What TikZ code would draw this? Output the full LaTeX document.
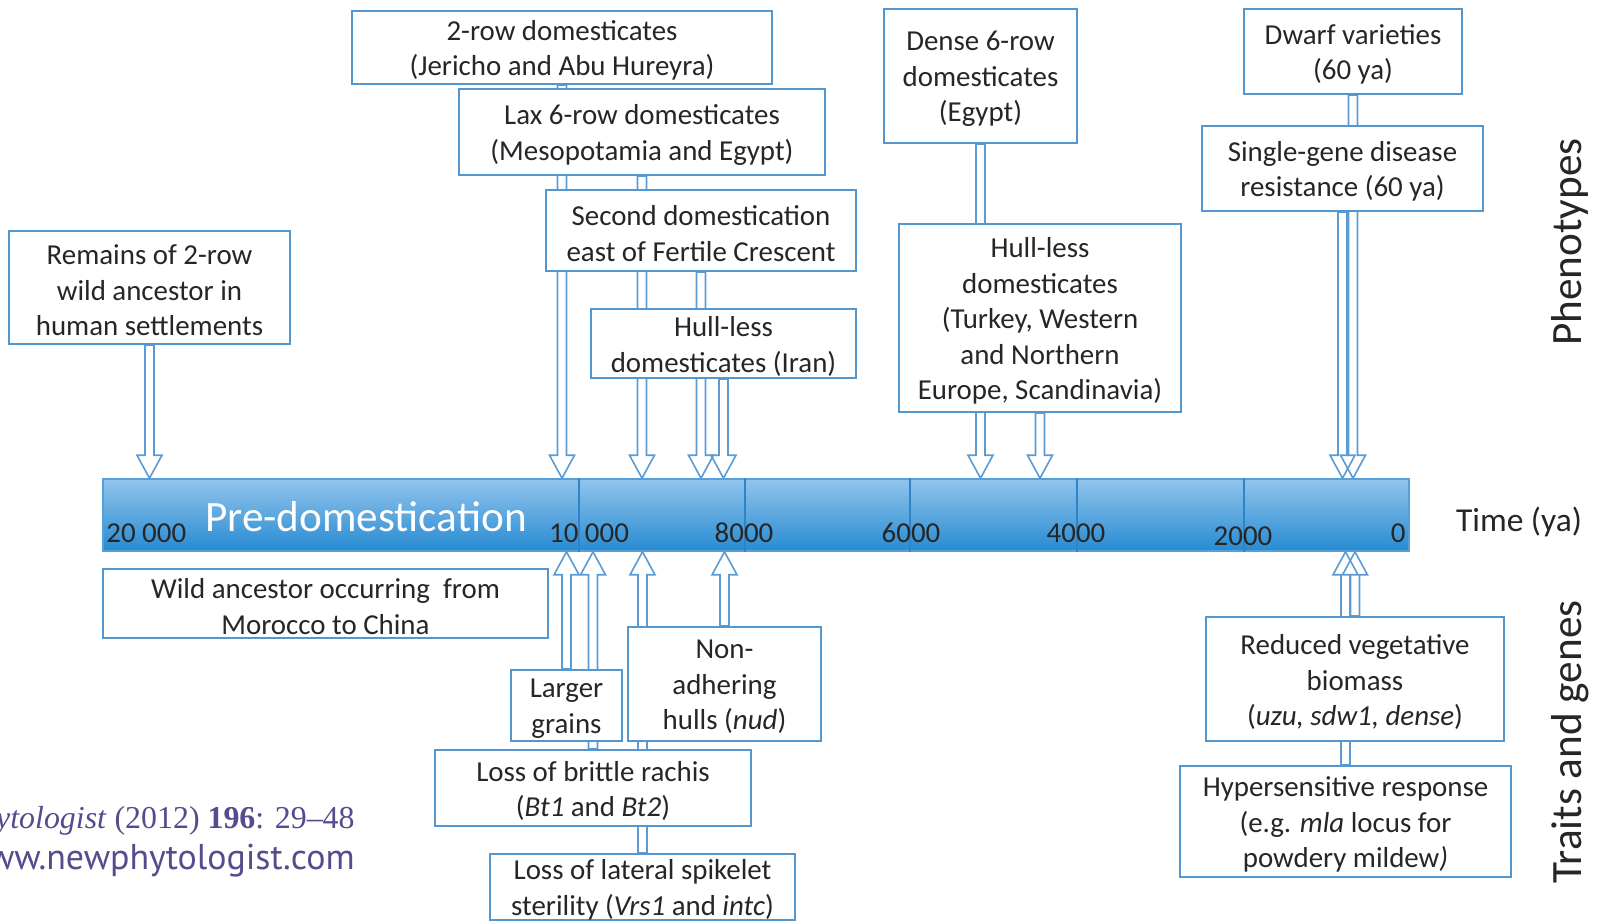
\documentclass[tikz,border=0pt]{standalone}
\usepackage{fontspec}
\setmainfont{Carlito}
\newfontfamily\citeserif{Liberation Serif}
\newfontfamily\citesans{PT Sans}
\usetikzlibrary{calc}
\definecolor{boxblue}{RGB}{84,150,208}
\definecolor{arrblue}{RGB}{91,155,213}
\definecolor{barTop}{RGB}{146,196,236}
\definecolor{barBot}{RGB}{38,139,210}
\definecolor{barEdge}{RGB}{86,160,218}
\definecolor{tickc}{RGB}{50,130,200}
\definecolor{txt}{RGB}{38,38,38}
\definecolor{citec}{RGB}{88,74,140}
\pgfdeclarelayer{back}
\pgfdeclarelayer{arrs}
\pgfsetlayers{back,arrs,main}
\newcommand\bxfont{\fontsize{14.5}{17.8}\selectfont}
\newcommand\bigfont{\fontsize{21.7}{26}\selectfont}
\newcommand\darrow[1]{%
  \draw[blk] let \p1=(#1.south), \p2=(bar.north) in
   (\x1-2.25pt,\y1) -- (\x1-2.25pt,\y2+11.5pt) -- (\x1-6.25pt,\y2+11.5pt) -- (\x1,\y2)
   -- (\x1+6.25pt,\y2+11.5pt) -- (\x1+2.25pt,\y2+11.5pt) -- (\x1+2.25pt,\y1) -- cycle;}
\newcommand\uarrow[1]{%
  \draw[blk] let \p1=(#1.north), \p2=(bar.south) in
   (\x1-2.25pt,\y1) -- (\x1-2.25pt,\y2-11.5pt) -- (\x1-6.25pt,\y2-11.5pt) -- (\x1,\y2)
   -- (\x1+6.25pt,\y2-11.5pt) -- (\x1+2.25pt,\y2-11.5pt) -- (\x1+2.25pt,\y1) -- cycle;}
% box: name, width(px), height(px), centre, text
\newcommand\bx[5]{%
  \node[box, sz={#2}{#3}] (#1) at (#4) {};
  \node[boxtext] (#1t) at ([yshift=-1.5pt]#1.center) {#5};}
\begin{document}
\begin{tikzpicture}[x=0.5bp,y=-0.5bp,
  box/.style={draw=boxblue, line width=1pt, fill=white, inner sep=0pt},
  boxtext/.style={inner sep=0pt, align=center, text=txt, font=\bxfont},
  sz/.style 2 args={minimum width=#1*0.5bp, minimum height=#2*0.5bp},
  blk/.style={draw=arrblue, line width=0.8pt, line join=miter},
  lab/.style={inner sep=0pt, text=txt, font=\bxfont},
  tick/.style={draw=tickc, line width=0.6pt}]
\useasboundingbox (0,0) rectangle (1604,920);
\begin{pgfonlayer}{back}
\fill[white] (0,0) rectangle (1604,922);
\end{pgfonlayer}

% time bar
\node[draw=barEdge, line width=0.8pt, top color=barTop, bottom color=barBot,
  minimum width=653bp, minimum height=36bp, inner sep=0pt] (bar) at (756,515) {};
\foreach \n/\x in {t10/579, t8/745, t6/910, t4/1077, t2/1244}{
  \coordinate (\n) at (\x,515);
  \draw[tick] (\n |- bar.north) -- (\n |- bar.south);
}
\node[lab, anchor=base west] (l20) at (106,542) {20 000};
\node[lab, anchor=base] (l10) at (589,542) {10 000};
\node[lab, anchor=base] (l8) at (744,542) {8000};
\node[lab, anchor=base] (l6) at (911,542) {6000};
\node[lab, anchor=base] (l4) at (1076,542) {4000};
\node[lab, anchor=base] (l2) at (1243,545) {2000};
\node[lab, anchor=base east] (l0) at (1406,542) {0};
\node[inner sep=0pt, text=white, font=\bigfont] (pre) at (366,517) {Pre-domestication};

% upper boxes
\bx{b1}{420}{73}{562,47.5}{2-row domesticates\\(Jericho and Abu Hureyra)}
\bx{b2}{366}{86}{642,132}{Lax 6-row domesticates\\(Mesopotamia and Egypt)}
\bx{b3}{310}{81}{701,230.5}{Second domestication\\east of Fertile Crescent}
\bx{b4}{265}{69}{723.5,343.5}{Hull-less\\domesticates (Iran)}
\bx{b5}{281}{113}{149.5,287.5}{Remains of 2-row\\wild ancestor in\\human settlements}
\bx{b6}{193}{134}{980.5,76}{Dense 6-row\\domesticates\\(Egypt)}
\bx{b7}{282}{188}{1040,318}{Hull-less\\domesticates\\(Turkey, Western\\and Northern\\Europe, Scandinavia)}
\bx{b8}{218}{85}{1353,51.5}{Dwarf varieties\\(60 ya)}
\bx{b9}{281}{85}{1342.5,168.5}{Single-gene disease\\resistance (60 ya)}

% lower boxes
\bx{b10}{445}{69}{325.5,603.5}{Wild ancestor occurring\ \ from\\Morocco to China}
\bx{b11}{111}{71}{566.5,705.5}{Larger\\grains}
\bx{b12}{193}{114}{724.5,684}{Non-\\adhering\\hulls (\textit{nud})}
\bx{b13}{316}{76}{593,788}{Loss of brittle rachis\\(\textit{Bt1} and \textit{Bt2})}
\bx{b14}{305}{66}{642.5,887}{Loss of lateral spikelet\\sterility (\textit{Vrs1} and \textit{intc})}
\bx{b15}{298}{124}{1355,679}{Reduced vegetative\\biomass\\(\textit{uzu, sdw1, dense})}
\bx{b16}{331}{111}{1345.5,821.5}{Hypersensitive response\\(e.g. \textit{mla} locus for\\powdery mildew\textit{)}}

% arrows (behind boxes)
\begin{pgfonlayer}{arrs}
\darrow{b1}\darrow{b2}\darrow{b3}\darrow{b4}\darrow{b5}
\darrow{b6}\darrow{b7}\darrow{b8}\darrow{b9}
\uarrow{b11}\uarrow{b12}\uarrow{b13}\uarrow{b14}\uarrow{b15}\uarrow{b16}
\end{pgfonlayer}

% side labels
\node[inner sep=0pt, text=txt, font=\fontsize{16.8}{20}\selectfont] (time) at (1519,522) {Time (ya)};
\node[inner sep=0pt, rotate=90, text=txt, font=\bigfont] (ph) at (1570,242) {Phenotypes};
\node[inner sep=0pt, rotate=90, text=txt, font=\bigfont] (tg) at (1570,742) {Traits and genes};

% citation (cut at the left edge, as in the reference)
\node[anchor=base east, inner sep=0pt, text=citec, font=\citeserif\fontsize{16}{20}\selectfont] (cit1) at (355,828) {\textit{New Phytologist} (2012) \textbf{196}: 29–48};
\node[anchor=base east, inner sep=0pt, text=citec, font=\citesans\fontsize{18}{22}\selectfont] (cit2) at (355,869) {www.newphytologist.com};
\end{tikzpicture}
\end{document}
